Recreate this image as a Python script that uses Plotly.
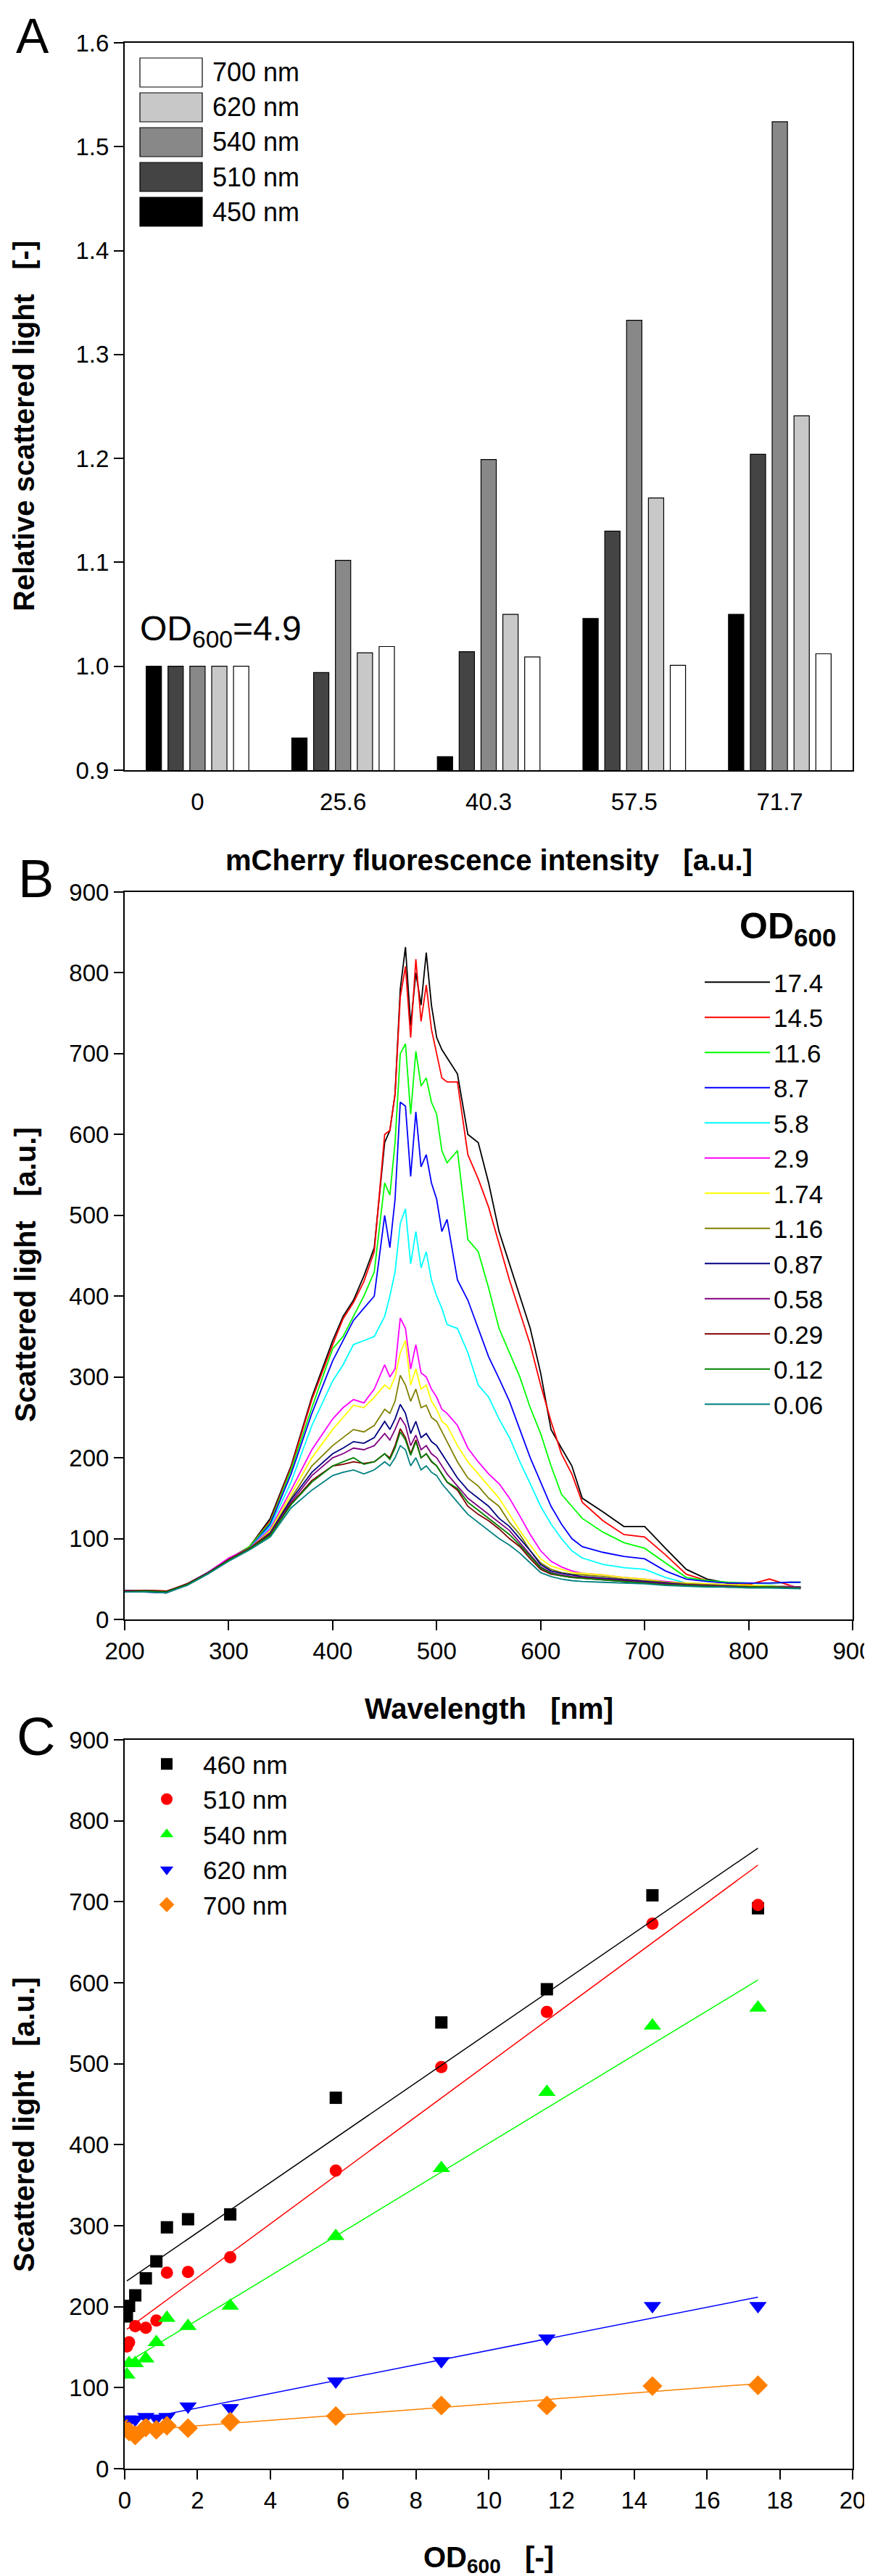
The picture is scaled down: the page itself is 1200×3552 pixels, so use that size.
import numpy as np
import plotly.graph_objects as go

# ---------------- canvas / layout constants ----------------
W, H = 1200, 3552
ML, MR, MT, MB = 164, 32, 51, 156
PW = W - ML - MR
PH = H - MT - MB


def fx(px):
    return (px - ML) / PW


def fy(py):
    return 1 - (py - MT) / PH


FONT = "Arial, 'Liberation Sans', sans-serif"
NB = "\u00a0"

# ---------------- Panel A data ----------------
fluor_cats = ["0", "25.6", "40.3", "57.5", "71.7"]
a_names = ["450 nm", "510 nm", "540 nm", "620 nm", "700 nm"]
a_colors = ["#000000", "#444444", "#888888", "#c8c8c8", "#ffffff"]
rel_450 = [1.0, 0.931, 0.913, 1.046, 1.050]
rel_510 = [1.0, 0.994, 1.014, 1.130, 1.204]
rel_540 = [1.0, 1.102, 1.199, 1.333, 1.524]
rel_620 = [1.0, 1.013, 1.050, 1.162, 1.241]
rel_700 = [1.0, 1.019, 1.009, 1.001, 1.012]
a_values = [rel_450, rel_510, rel_540, rel_620, rel_700]

# ---------------- Panel B data ----------------
wavelength = [200, 220, 240, 260, 280, 300, 320, 340, 360, 380, 400, 410, 420, 430, 440, 450, 455, 460,
              465, 470, 475, 480, 485, 490, 495, 500, 505, 510, 520, 530, 540, 550, 560, 570, 580, 590,
              600, 610, 620, 630, 640, 660, 680, 700, 720, 740, 760, 780, 800, 820, 840, 850]
b_labels = ["17.4", "14.5", "11.6", "8.7", "5.8", "2.9", "1.74", "1.16", "0.87", "0.58", "0.29", "0.12", "0.06"]
b_colors = ["#000000", "#ff0000", "#00ff00", "#0000ff", "#00ffff", "#ff00ff", "#ffff00",
            "#808000", "#000080", "#800080", "#800000", "#008000", "#008080"]
spec_17_4 = [36, 35, 34, 44, 58, 75, 90, 125, 190, 275, 345, 375, 395, 425, 460, 590, 605, 650, 780, 832,
             735, 800, 760, 825, 760, 720, 705, 695, 675, 600, 590, 540, 480, 440, 400, 360, 305, 235, 212,
             190, 150, 133, 115, 115, 88, 62, 50, 45, 42, 42, 40, 40]
spec_14_5 = [35, 36, 35, 43, 57, 74, 90, 122, 188, 272, 340, 372, 392, 418, 455, 600, 605, 650, 770, 808,
             720, 817, 740, 785, 730, 700, 670, 665, 665, 575, 545, 510, 465, 420, 380, 340, 290, 245, 205,
             180, 145, 122, 105, 102, 80, 56, 48, 45, 43, 50, 42, 38]
spec_11_6 = [34, 36, 34, 44, 58, 74, 90, 120, 185, 262, 335, 350, 375, 400, 430, 540, 525, 590, 700, 712,
             625, 703, 660, 670, 640, 625, 580, 565, 580, 470, 455, 410, 360, 330, 300, 262, 230, 190, 155,
             140, 125, 108, 95, 88, 70, 52, 48, 46, 45, 45, 46, 46]
spec_8_7 = [35, 35, 33, 43, 57, 73, 88, 118, 180, 255, 320, 345, 370, 385, 400, 500, 460, 520, 640, 635,
            548, 628, 560, 575, 540, 520, 480, 495, 420, 395, 360, 325, 298, 270, 235, 200, 170, 140, 118,
            100, 90, 83, 78, 75, 60, 50, 47, 45, 45, 45, 46, 46]
spec_5_8 = [36, 35, 34, 44, 58, 74, 88, 115, 170, 240, 295, 315, 340, 345, 350, 375, 400, 430, 490, 508,
            440, 480, 435, 455, 420, 400, 385, 365, 360, 330, 290, 275, 248, 225, 195, 168, 140, 118, 100,
            85, 76, 68, 64, 62, 52, 45, 44, 43, 42, 42, 41, 40]
spec_2_9 = [35, 34, 34, 44, 58, 76, 88, 112, 160, 210, 248, 262, 272, 268, 285, 315, 300, 310, 373, 360,
            310, 340, 305, 300, 285, 275, 260, 255, 240, 212, 195, 180, 168, 150, 128, 105, 85, 72, 65,
            60, 57, 55, 52, 50, 47, 45, 44, 43, 42, 41, 41, 40]
spec_1_74 = [34, 35, 33, 43, 57, 73, 87, 110, 155, 200, 235, 250, 265, 262, 275, 290, 285, 300, 330, 345,
             290, 310, 285, 290, 270, 260, 245, 240, 215, 195, 180, 165, 150, 130, 110, 92, 75, 66, 62,
             58, 57, 55, 52, 50, 46, 45, 44, 43, 42, 41, 40, 40]
spec_1_16 = [35, 35, 34, 44, 57, 74, 88, 108, 150, 190, 215, 225, 235, 232, 240, 260, 255, 270, 302, 290,
             270, 285, 262, 265, 250, 245, 232, 220, 195, 175, 165, 150, 140, 120, 105, 85, 70, 62, 58,
             56, 55, 53, 50, 48, 46, 44, 43, 42, 41, 40, 40, 40]
spec_0_87 = [35, 34, 33, 43, 57, 73, 87, 107, 148, 182, 205, 212, 220, 218, 225, 245, 235, 248, 266, 255,
             230, 245, 225, 230, 220, 215, 205, 195, 175, 160, 150, 140, 125, 115, 100, 85, 68, 60, 57,
             55, 53, 51, 49, 47, 45, 43, 42, 41, 40, 40, 40, 40]
spec_0_58 = [36, 35, 34, 44, 58, 74, 88, 106, 145, 178, 200, 205, 212, 210, 215, 230, 222, 235, 250, 240,
             215, 228, 210, 215, 205, 200, 190, 180, 165, 150, 140, 130, 120, 110, 95, 80, 65, 58, 55,
             53, 52, 50, 48, 46, 44, 43, 42, 41, 40, 40, 40, 40]
spec_0_29 = [35, 36, 35, 44, 57, 74, 88, 105, 143, 172, 190, 192, 195, 193, 195, 205, 200, 215, 236, 225,
             205, 222, 200, 205, 195, 190, 180, 170, 160, 140, 130, 122, 112, 100, 90, 75, 62, 56, 54,
             52, 51, 49, 47, 45, 43, 42, 41, 40, 40, 40, 39, 39]
spec_0_12 = [34, 35, 34, 43, 57, 73, 87, 104, 142, 170, 190, 195, 200, 192, 195, 205, 198, 212, 232, 222,
             203, 220, 200, 205, 196, 190, 180, 170, 162, 145, 135, 125, 115, 105, 92, 78, 64, 57, 54,
             52, 51, 49, 47, 45, 43, 42, 41, 40, 40, 40, 39, 39]
spec_0_06 = [34, 34, 33, 42, 56, 72, 86, 102, 138, 160, 178, 182, 185, 180, 185, 195, 190, 200, 215, 210,
             190, 200, 185, 190, 182, 178, 168, 160, 145, 130, 120, 110, 100, 92, 82, 70, 58, 53, 50,
             48, 47, 46, 45, 44, 42, 41, 40, 40, 39, 39, 38, 38]
b_spectra = [spec_17_4, spec_14_5, spec_11_6, spec_8_7, spec_5_8, spec_2_9, spec_1_74, spec_1_16,
             spec_0_87, spec_0_58, spec_0_29, spec_0_12, spec_0_06]
for s in b_spectra:
    assert len(s) == len(wavelength)

# ---------------- Panel C data ----------------
od600 = [0.06, 0.12, 0.29, 0.58, 0.87, 1.16, 1.74, 2.9, 5.8, 8.7, 11.6, 14.5, 17.4]
c_names = ["460 nm", "510 nm", "540 nm", "620 nm", "700 nm"]
c_colors = ["#000000", "#ff0000", "#00ff00", "#0000ff", "#ff8000"]
c_symbols = ["square", "circle", "triangle-up", "triangle-down", "diamond"]
c_sizes = [17, 17, 21, 21, 21]
sl_460 = [188, 201, 214, 235, 256, 298, 308, 314, 458, 551, 592, 708, 692]
sl_510 = [151, 156, 176, 174, 183, 242, 243, 261, 368, 496, 564, 673, 696]
sl_540 = [116, 130, 130, 136, 156, 186, 176, 201, 287, 371, 465, 547, 569]
sl_620 = [61, 59, 61, 64, 62, 64, 77, 75, 108, 133, 161, 201, 201]
sl_700 = [49, 46, 41, 51, 48, 53, 50, 58, 65, 78, 78, 102, 103]
c_values = [sl_460, sl_510, sl_540, sl_620, sl_700]

# ---------------- figure ----------------
fig = go.Figure()

# Panel A bars
for name, col, vals in zip(a_names, a_colors, a_values):
    fig.add_trace(go.Bar(x=fluor_cats, y=vals, name=name,
                         marker=dict(color=col, line=dict(color="black", width=1.2)),
                         xaxis="x", yaxis="y", showlegend=False))

# Panel C scatter (legend "legend")
for name, col, sym, sz, vals in zip(c_names, c_colors, c_symbols, c_sizes, c_values):
    fig.add_trace(go.Scatter(x=od600, y=vals, name=name, mode="markers",
                             marker=dict(color=col, symbol=sym, size=sz, line=dict(width=0)),
                             xaxis="x3", yaxis="y3", legend="legend"))
# Panel C linear fits
odx = np.array(od600)
for name, col, vals in zip(c_names, c_colors, c_values):
    slope, intercept = np.polyfit(odx, np.array(vals, dtype=float), 1)
    xf = np.array([odx.min(), odx.max()])
    fig.add_trace(go.Scatter(x=xf, y=intercept + slope * xf, mode="lines", line=dict(color=col, width=1.5),
                             xaxis="x3", yaxis="y3", showlegend=False, hoverinfo="skip"))

# Panel B spectra (legend "legend2")
for lab, col, spec in zip(b_labels, b_colors, b_spectra):
    fig.add_trace(go.Scatter(x=wavelength, y=spec, name=lab, mode="lines", line=dict(color=col, width=1.8),
                             xaxis="x2", yaxis="y2", legend="legend2"))

tickfont = dict(family=FONT, size=33, color="black")
axis_common = dict(showline=True, linecolor="black", linewidth=2, mirror=True, ticks="outside", ticklen=13,
                   tickwidth=2, tickcolor="black", showgrid=False, zeroline=False, tickfont=tickfont)

yA = [fy(1054), fy(51)]
yB = [fy(2225), fy(1222)]
yC = [fy(3396), fy(2391)]

fig.update_layout(
    width=W, height=H,
    margin=dict(l=ML, r=MR, t=MT, b=MB, autoexpand=False),
    paper_bgcolor="white", plot_bgcolor="white",
    font=dict(family=FONT, color="black"),
    barmode="group", bargap=0.25, bargroupgap=0.3,
    xaxis=dict(axis_common, type="category", domain=[0, 1], anchor="y", tickcolor="rgba(0,0,0,0)"),
    yaxis=dict(axis_common, domain=yA, anchor="x", range=[0.9, 1.6], dtick=0.1, tickformat=".1f"),
    xaxis2=dict(axis_common, domain=[0, 1], anchor="y2", range=[200, 900], dtick=100),
    yaxis2=dict(axis_common, domain=yB, anchor="x2", range=[0, 900], dtick=100),
    xaxis3=dict(axis_common, domain=[0, 1], anchor="y3", range=[0, 20], dtick=2),
    yaxis3=dict(axis_common, domain=yC, anchor="x3", range=[0, 900], dtick=100),
    legend=dict(x=fx(172), y=fy(2395), xanchor="left", yanchor="top", bgcolor="rgba(0,0,0,0)",
                font=dict(family=FONT, size=35, color="black"), itemwidth=90, tracegroupgap=0,
                traceorder="normal"),
    legend2=dict(x=fx(959), y=fy(1317), xanchor="left", yanchor="top", bgcolor="rgba(0,0,0,0)",
                 font=dict(family=FONT, size=35, color="black"), itemwidth=90, tracegroupgap=0,
                 traceorder="normal"),
)

ann = []
shapes = []


def add_text(text, px, py, size, bold=False, xanchor="center", yanchor="middle", angle=0):
    if bold:
        text = "<b>" + text + "</b>"
    ann.append(dict(text=text, x=fx(px), y=fy(py), xref="paper", yref="paper", showarrow=False,
                    xanchor=xanchor, yanchor=yanchor, textangle=angle,
                    font=dict(family=FONT, size=size, color="black")))


# panel letters
add_text("A", 12, 1, 68, xanchor="left", yanchor="top")
add_text("B", 15, 1203, 74, xanchor="left")
add_text("C", 13, 2386, 74, xanchor="left")

# axis titles
add_text("Relative scattered light" + NB * 3 + "[-]", 25, 580, 40, bold=True, angle=-90)
add_text("mCherry fluorescence intensity" + NB * 3 + "[a.u.]", 666, 1178, 40, bold=True)
add_text("Scattered light" + NB * 3 + "[a.u.]", 27, 1750, 40, bold=True, angle=-90)
add_text("Wavelength" + NB * 3 + "[nm]", 666, 2348, 40, bold=True)
add_text("Scattered light" + NB * 3 + "[a.u.]", 25, 2922, 40, bold=True, angle=-90)
add_text("OD<sub>600</sub>" + NB * 3 + "[-]", 666, 3521, 40, bold=True)

# OD annotation in panel A
add_text("OD<sub>600</sub>=4.9", 183, 862, 48, xanchor="left")
# Legend title for panel B
add_text("OD<sub>600</sub>", 1147, 1272, 50, bold=True, xanchor="right")

# custom legend for panel A (large swatches like the original)
rows = list(range(len(a_names)))
for k, idx in enumerate(reversed(rows)):
    cy = 92 + 48 * k
    shapes.append(dict(type="rect", xref="paper", yref="paper", x0=fx(185), x1=fx(271),
                       y0=fy(cy + 20), y1=fy(cy - 20), fillcolor=a_colors[idx],
                       line=dict(color="black", width=1.2)))
    add_text(a_names[idx], 283, cy, 36, xanchor="left")

fig.update_layout(annotations=ann, shapes=shapes)
fig.write_html("out.html")
